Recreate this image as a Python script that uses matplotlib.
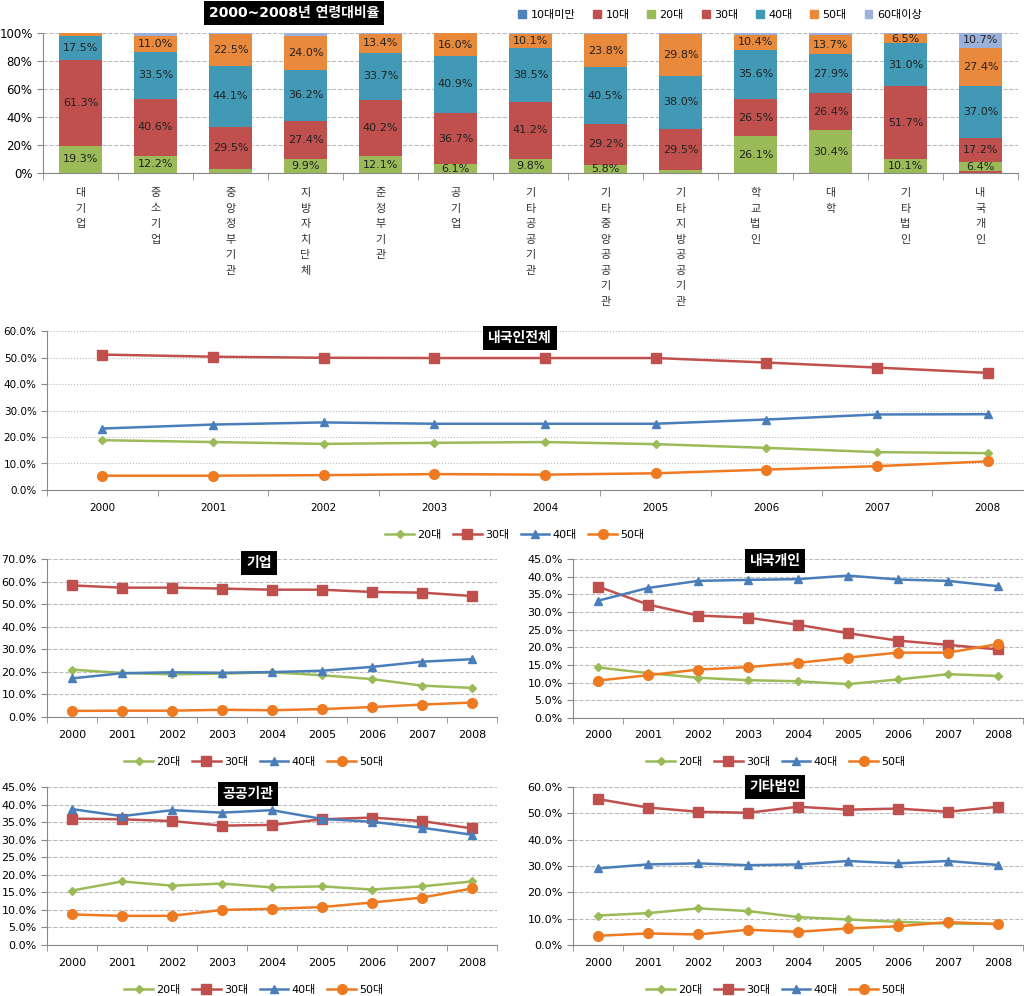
import matplotlib
matplotlib.use('Agg')
import matplotlib.pyplot as plt
from matplotlib.patches import Patch
from matplotlib.lines import Line2D
import numpy as np

plt.rcParams['font.family'] = ['DejaVu Sans', 'Noto Sans CJK KR']

# ---- top chart: age share by organisation type (%) ----
orgs = ['대기업', '중소기업', '중앙정부기관', '지방자치단체', '준정부기관', '공기업',
        '기타공공기관', '기타중앙공공기관', '기타지방공공기관', '학교법인', '대학',
        '기타법인', '내국개인']
age_groups = ['10대미만', '10대', '20대', '30대', '40대', '50대', '60대이상']
share_u10 = [0, 0, 0, 0, 0, 0, 0, 0, 0, 0, 0, 0, 0.3]
share_10s = [0, 0.2, 0, 0, 0, 0, 0, 0, 0, 0, 0, 0, 1.0]
share_20s = [19.3, 12.2, 3.1, 9.9, 12.1, 6.1, 9.8, 5.8, 2.0, 26.1, 30.4, 10.1, 6.4]
share_30s = [61.3, 40.6, 29.5, 27.4, 40.2, 36.7, 41.2, 29.2, 29.5, 26.5, 26.4, 51.7, 17.2]
share_40s = [17.5, 33.5, 44.1, 36.2, 33.7, 40.9, 38.5, 40.5, 38.0, 35.6, 27.9, 31.0, 37.0]
share_50s = [1.7, 11.0, 22.5, 24.0, 13.4, 16.0, 10.1, 23.8, 29.8, 10.4, 13.7, 6.5, 27.4]
share_60p = [0.2, 2.5, 0.8, 2.5, 0.6, 0.3, 0.4, 0.7, 0.7, 1.4, 1.6, 0.7, 10.7]
bar_colors = ['#4F81BD', '#C0504D', '#9BBB59', '#C0504D', '#4199B5', '#E8893C', '#9BB0DA']

# ---- line charts (%), 2000-2008 ----
years = list(range(2000, 2009))
line_names = ['20대', '30대', '40대', '50대']

total_20s = [18.8, 18.1, 17.4, 17.8, 18.1, 17.3, 15.9, 14.3, 13.9]
total_30s = [51.1, 50.3, 49.9, 49.8, 49.8, 49.8, 48.1, 46.2, 44.2]
total_40s = [23.2, 24.7, 25.5, 25.0, 25.0, 25.0, 26.6, 28.5, 28.6]
total_50s = [5.4, 5.4, 5.6, 6.0, 5.8, 6.3, 7.7, 9.0, 10.8]

corp_20s = [21.0, 19.5, 18.9, 19.2, 19.8, 18.5, 16.8, 13.9, 12.9]
corp_30s = [58.3, 57.3, 57.3, 56.9, 56.4, 56.4, 55.4, 55.1, 53.6]
corp_40s = [17.1, 19.4, 19.8, 19.6, 19.9, 20.5, 22.2, 24.5, 25.6]
corp_50s = [2.7, 2.8, 2.8, 3.2, 3.0, 3.5, 4.4, 5.5, 6.4]

indiv_20s = [14.3, 12.7, 11.4, 10.7, 10.4, 9.6, 10.9, 12.4, 11.9]
indiv_30s = [37.2, 32.1, 29.0, 28.4, 26.4, 24.0, 21.9, 20.7, 19.4]
indiv_40s = [33.2, 36.8, 38.8, 39.1, 39.3, 40.3, 39.2, 38.8, 37.3]
indiv_50s = [10.6, 12.1, 13.7, 14.4, 15.6, 17.1, 18.5, 18.5, 20.9]

public_20s = [15.5, 18.1, 16.9, 17.5, 16.4, 16.7, 15.8, 16.7, 18.1]
public_30s = [36.0, 35.8, 35.3, 34.0, 34.2, 35.8, 36.3, 35.3, 33.2]
public_40s = [38.7, 36.7, 38.4, 37.7, 38.4, 35.9, 35.1, 33.4, 31.4]
public_50s = [8.7, 8.3, 8.3, 10.0, 10.3, 10.8, 12.1, 13.5, 16.1]

other_20s = [11.2, 12.1, 13.9, 12.9, 10.6, 9.7, 8.8, 8.1, 8.1]
other_30s = [55.4, 52.2, 50.6, 50.2, 52.5, 51.4, 51.8, 50.6, 52.5]
other_40s = [29.1, 30.6, 31.0, 30.3, 30.6, 31.9, 31.0, 31.9, 30.4]
other_50s = [3.5, 4.4, 4.0, 5.8, 5.0, 6.3, 7.1, 8.7, 7.9]

line_colors = ['#9BBB59', '#C0504D', '#4A7EBB', '#EE7A22']
line_markers = ['D', 's', '^', 'o']
marker_sizes = [4, 7, 6, 7]

W, H = 1024, 996
fig = plt.figure(figsize=(W / 100, H / 100), dpi=100)


def fx(px):
    return px / W


def fy(py):
    return 1 - py / H


def title_box(x, y, text, size=10):
    fig.text(fx(x), fy(y), text, ha='center', va='center', color='white',
             fontweight='bold', fontsize=size,
             bbox=dict(facecolor='black', edgecolor='none', pad=3.5))


def style_axes(ax, grid_ls='--'):
    for s in ['top', 'right']:
        ax.spines[s].set_visible(False)
    for s in ['left', 'bottom']:
        ax.spines[s].set_color('#888888')
    ax.grid(axis='y', linestyle=grid_ls, color='#bbbbbb', lw=0.8)
    ax.set_axisbelow(True)


# ---- stacked bars ----
ax = fig.add_axes([fx(43), fy(173), fx(975), (173 - 33) / H])
x = np.arange(len(orgs))
stack = [share_u10, share_10s, share_20s, share_30s, share_40s, share_50s, share_60p]
bottom = np.zeros(len(orgs))
for vals, c in zip(stack, bar_colors):
    vals = np.array(vals)
    ax.bar(x, vals, 0.58, bottom=bottom, color=c)
    for xi, v, b in zip(x, vals, bottom):
        if v >= 5:
            ax.text(xi, b + v / 2, f'{v:.1f}%', ha='center', va='center',
                    fontsize=8, color='#222222')
    bottom += vals
ax.set_xlim(-0.5, len(orgs) - 0.5)
ax.set_ylim(0, 100)
ax.set_yticks(range(0, 101, 20))
ax.set_yticklabels([f'{v}%' for v in range(0, 101, 20)], fontsize=8.5)
ax.set_xticks(np.arange(-0.5, len(orgs)), minor=True)
ax.set_xticks([])
ax.tick_params(axis='x', which='minor', length=5, color='#888888')
ax.tick_params(axis='y', length=4, color='#888888')
style_axes(ax)
for i, name in enumerate(orgs):
    for j, ch in enumerate(name):
        ax.annotate(ch, xy=(i, 0), xycoords=('data', 'axes fraction'),
                    xytext=(0, -14.5 - j * 11.2), textcoords='offset points',
                    ha='center', va='center', fontsize=8, color='#333333')

title_box(294, 13, '2000~2008년 연령대비율', 10)
fig.legend([Patch(color=c) for c in bar_colors], age_groups, loc='center',
           bbox_to_anchor=(fx(720), fy(15)), ncol=7, frameon=False, fontsize=8,
           handlelength=0.7, handleheight=0.7, handletextpad=0.4, columnspacing=1.6)


def line_panel(x0, x1, y0, y1, series, ymax, ystep, title, title_xy, legend_xy,
               tick_size=8, grid_ls='--'):
    ax = fig.add_axes([fx(x0), fy(y0), fx(x1 - x0), (y0 - y1) / H])
    xs = np.arange(len(years))
    for vals, c, m, ms in zip(series, line_colors, line_markers, marker_sizes):
        ax.plot(xs, vals, color=c, marker=m, markersize=ms, lw=1.8)
    ax.set_xlim(-0.5, len(years) - 0.5)
    ax.set_ylim(0, ymax)
    ticks = np.arange(0, ymax + 0.01, ystep)
    ax.set_yticks(ticks)
    ax.set_yticklabels([f'{t:.1f}%' for t in ticks], fontsize=tick_size)
    ax.set_xticks(xs)
    ax.set_xticklabels([str(y) for y in years], fontsize=tick_size)
    ax.set_xticks(np.arange(-0.5, len(years)), minor=True)
    ax.tick_params(axis='x', which='major', length=0, pad=9)
    ax.tick_params(axis='x', which='minor', length=4, color='#888888')
    ax.tick_params(axis='y', length=4, color='#888888')
    style_axes(ax, grid_ls)
    title_box(title_xy[0], title_xy[1], title, 10)
    handles = [Line2D([], [], color=c, marker=m, markersize=ms, lw=1.8)
               for c, m, ms in zip(line_colors, line_markers, marker_sizes)]
    fig.legend(handles, line_names, loc='center',
               bbox_to_anchor=(fx(legend_xy[0]), fy(legend_xy[1])), ncol=4,
               frameon=False, fontsize=8, handlelength=2.6, handletextpad=0.3,
               columnspacing=1.0)
    return ax


line_panel(47, 1043, 490, 331, [total_20s, total_30s, total_40s, total_50s],
           60, 10, '내국인전체', (520, 338), (515, 535), tick_size=7.5, grid_ls=':')
line_panel(47, 497, 717, 559, [corp_20s, corp_30s, corp_40s, corp_50s],
           70, 10, '기업', (259, 563), (254, 762))
line_panel(573, 1023, 718, 559, [indiv_20s, indiv_30s, indiv_40s, indiv_50s],
           45, 5, '내국개인', (775, 561), (776, 762))
line_panel(47, 497, 945, 787, [public_20s, public_30s, public_40s, public_50s],
           45, 5, '공공기관', (248, 794), (254, 990))
line_panel(573, 1023, 945, 787, [other_20s, other_30s, other_40s, other_50s],
           60, 10, '기타법인', (775, 787), (776, 990))

fig.savefig('out.png', dpi=100)
